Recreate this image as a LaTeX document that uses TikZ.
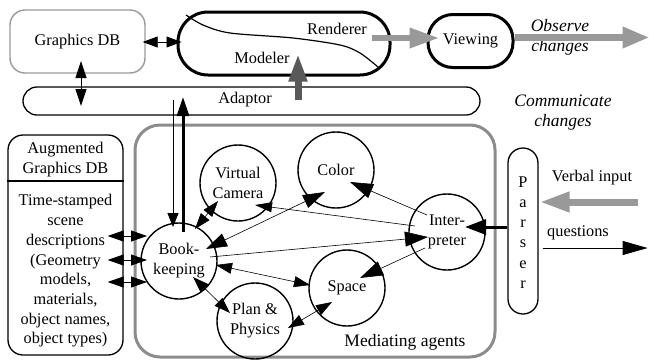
\documentclass[tikz,border=0pt]{standalone}
\usepackage{fontspec}
\setmainfont{Liberation Serif}
\usetikzlibrary{arrows.meta,calc}
\begin{document}
\begin{tikzpicture}[x=1pt,y=-1pt,
  every node/.style={font=\fontsize{16.3}{19.7}\selectfont},
  txt/.style={inner sep=0pt,align=center},
  agent/.style={circle,draw,line width=1.4pt,minimum size=76pt,inner sep=0pt,align=center,font=\fontsize{16.3}{20}\selectfont},
  rbox/.style={draw,rounded corners=#1,inner sep=0pt},
  big/.style={line width=0.6pt,-{Triangle[length=23pt,width=15pt]}},
  bigbig/.style={line width=0.6pt,{Triangle[length=21pt,width=14pt]}-{Triangle[length=22pt,width=14pt]}},
  med/.style={line width=0.6pt,-{Triangle[length=17pt,width=10pt]}},
  medmed/.style={line width=0.6pt,{Triangle[length=16pt,width=11pt]}-{Triangle[length=16pt,width=11pt]}},
  lgarrow/.style={draw=black!40,line width=6.5pt,-{Triangle[length=30pt,width=19pt]}},
  dgarrow/.style={draw=black!65,line width=7pt,-{Triangle[length=28pt,width=17pt]}},
  ital/.style={txt,font=\fontsize{17.5}{20}\selectfont\itshape}
]
\useasboundingbox (0,0) rectangle (649,360);

% top row
\node[rbox=15pt,draw=black!40,line width=1.4pt,minimum width=135pt,minimum height=63pt] (gdb) at (77.5,41.5) {Graphics DB};
\node[rbox=30pt,line width=3pt,minimum width=212pt,minimum height=63pt] (rend) at (284,43.5) {};
\draw[line width=1.2pt] plot[smooth] coordinates {(186,15) (203,25) (230,33) (293,38) (340,45) (360,53) (378,67)};
\node[txt] (rendt) at (337,29) {Renderer};
\node[txt] (modt) at (262,58) {Modeler};
\node[rbox=25pt,line width=3pt,minimum width=85pt,minimum height=53pt] (view) at (470.5,41) {Viewing};
\node[ital] (obs) at (560,37) {Observe\\changes};
\node[rbox=14pt,line width=1.3pt,minimum width=457pt,minimum height=28pt] (adap) at (251.5,101) {};
\node[txt] (adapt) at (245,100) {Adaptor};
\node[ital] (comm) at (563,113) {Communicate\\changes};

% lower part
\node[rbox=25pt,draw=black!45,line width=3pt,minimum width=360pt,minimum height=232pt] (med) at (315,241) {};
\node[txt,font=\fontsize{17.5}{20}\selectfont] (medt) at (405,342) {Mediating agents};

\node[rbox=15pt,line width=1.3pt,minimum width=115pt,minimum height=220pt] (aug) at (65.5,245) {};
\draw[line width=1.3pt] (aug.west |- 0,181) coordinate (divl) -- (aug.east |- 0,181) coordinate (divr);
\node[txt] (augh) at (65.5,159.5) {Augmented\\Graphics DB};
\node[txt] (augb) at (65.5,271) {Time-stamped\\scene\\descriptions\\(Geometry\\models,\\materials,\\object names,\\object types)};

\node[rbox=15pt,line width=1.3pt,minimum width=30pt,minimum height=166pt] (parser) at (523,231) {};
\node[txt,font=\fontsize{16.3}{20.2}\selectfont] (parst) at (523,232.5) {P\\a\\r\\s\\e\\r};
\node[txt] (verb) at (592,178) {Verbal input};
\node[txt] (quest) at (578,233) {questions};

% agents
\node[agent] (bk) at (179,261) {Book-\\keeping};
\node[agent] (vc) at (238,183) {Virtual\\Camera};
\node[agent] (col) at (336,170) {Color};
\node[agent] (int) at (447,232) {Inter-\\preter};
\node[agent] (sp) at (347,288) {Space};
\node[agent] (pp) at (255,321) {Plan \&\\Physics};

% agent connectors
\draw[medmed] ([shift={(16,-32)}]bk.center) -- ([shift={(-20,18)}]vc.center);
\draw[bigbig] ([shift={(27,-12)}]bk.center) -- ([shift={(-11,22)}]col.center);
\draw[med] ([shift={(-32,-6)}]int.center) -- ([shift={(17,22)}]vc.center);
\draw[big] ([shift={(-20,-17)}]int.center) -- ([shift={(14,12)}]col.center);
\draw[big] ([shift={(31,-4)}]bk.center) -- ([shift={(-19,5)}]int.center);
\draw[big] ([shift={(-22,16)}]int.center) -- ([shift={(13,-10)}]sp.center);
\draw[medmed] ([shift={(37,4)}]bk.center) -- ([shift={(-37,-3)}]sp.center);
\draw[medmed] ([shift={(14,16)}]bk.center) -- ([shift={(-25,-8)}]pp.center);
\draw[medmed] ([shift={(33,7)}]pp.center) -- ([shift={(-15,14)}]sp.center);

% parser to interpreter
\draw[line width=3pt,-{Triangle[length=21pt,width=15pt]}] ($(parser.west)+(0,-4)$) -- ([shift={(18,-5)}]int.center);
% verbal input, questions
\draw[lgarrow,line width=7pt] ($(parser.east)+(99,-29)$) -- ($(parser.east)+(1,-29)$);
\draw[line width=0.8pt,-{Triangle[length=25pt,width=14pt]}] ($(parser.east)+(4,17)$) -- ($(parser.east)+(109,17)$);

% aug db <-> bookkeeping
\foreach \dy/\ey in {-9/-25,15/-1,37/21}
  \draw[line width=0.8pt,{Triangle[length=16pt,width=11pt]}-{Triangle[length=16pt,width=11pt]}] ($(aug.east)+(-16,\dy)$) -- ($(bk.center)+(-32,\ey)$);

% bookkeeping <-> adaptor
\draw[line width=0.8pt,-{Triangle[length=14pt,width=11pt]}] ($(bk.center |- adap.center)+(-6,-1)$) -- ([shift={(-6,-34)}]bk.center);
\draw[line width=3pt,-{Triangle[length=19pt,width=12pt]}] ([shift={(4,-29)}]bk.center) -- ($(bk.center |- adap.center)+(4,-4)$);

% graphics db links
\draw[line width=0.8pt,{Triangle[length=17pt,width=11pt]}-{Triangle[length=17pt,width=11pt]}] ($(gdb.center)+(3.5,19.5)$) -- ($(gdb.center |- adap.center)+(3.5,5)$);
\draw[line width=0.8pt,{Triangle[length=15pt,width=11pt]}-{Triangle[length=15pt,width=11pt]}] ($(gdb.east)+(-3,0.5)$) -- ($(rend.west)+(5,-1.5)$);

% gray arrows
\draw[dgarrow] ($(adap.center)+(46.5,-1)$) -- ($(rend.south)+(14,-23)$);
\draw[lgarrow] ($(rend.east)+(-20,-5.5)$) -- ($(view.west)+(13,-3)$);
\draw[lgarrow,line width=7.5pt,-{Triangle[length=27pt,width=20pt]}] ($(view.east)+(0,-3.5)$) -- ($(view.east)+(135,-3.5)$);
\end{tikzpicture}
\end{document}
